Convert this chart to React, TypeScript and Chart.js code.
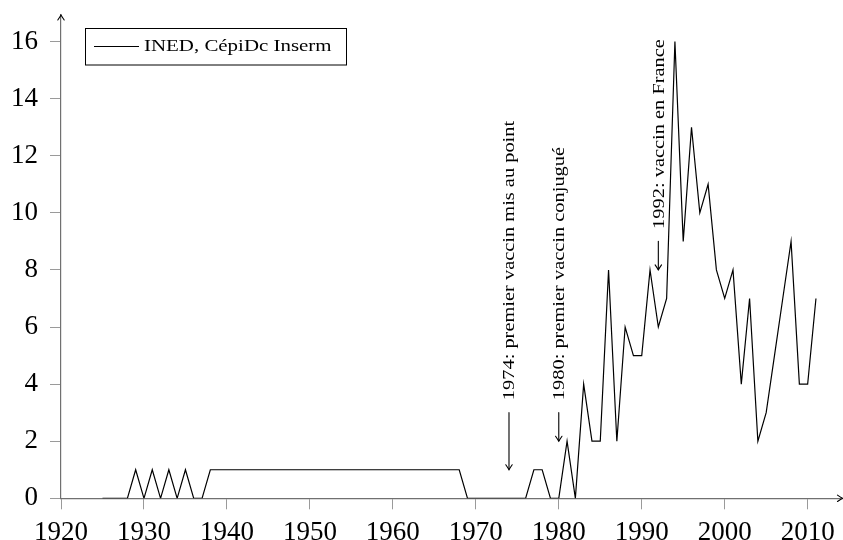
import React, { useEffect, useRef } from "react";
import { Chart, registerables } from "chart.js";

Chart.register(...registerables);

// ---- Data ----
const years = [
  1925, 1926, 1927, 1928, 1929, 1930, 1931, 1932, 1933, 1934, 1935, 1936, 1937,
  1938, 1939, 1940, 1941, 1942, 1943, 1944, 1945, 1946, 1947, 1948, 1949, 1950,
  1951, 1952, 1953, 1954, 1955, 1956, 1957, 1958, 1959, 1960, 1961, 1962, 1963,
  1964, 1965, 1966, 1967, 1968, 1969, 1970, 1971, 1972, 1973, 1974, 1975, 1976,
  1977, 1978, 1979, 1980, 1981, 1982, 1983, 1984, 1985, 1986, 1987, 1988, 1989,
  1990, 1991, 1992, 1993, 1994, 1995, 1996, 1997, 1998, 1999, 2000, 2001, 2002,
  2003, 2004, 2005, 2006, 2007, 2008, 2009, 2010, 2011,
];
const deaths = [
  0, 0, 0, 0, 1, 0, 1, 0, 1, 0, 1, 0, 0,
  1, 1, 1, 1, 1, 1, 1, 1, 1, 1, 1, 1, 1,
  1, 1, 1, 1, 1, 1, 1, 1, 1, 1, 1, 1, 1,
  1, 1, 1, 1, 1, 0, 0, 0, 0, 0, 0, 0, 0,
  1, 1, 0, 0, 2, 0, 4, 2, 2, 8, 2, 6, 5,
  5, 8, 6, 7, 16, 9, 13, 10, 11, 8, 7, 8, 4,
  7, 2, 3, 5, 7, 9, 4, 4, 7,
];
const xTicks = [1920, 1930, 1940, 1950, 1960, 1970, 1980, 1990, 2000, 2010];
const yTicks = [0, 2, 4, 6, 8, 10, 12, 14, 16];
const seriesLabel = "INED, CépiDc Inserm";
const annotationYears = [1974, 1980, 1992];
const annotationTexts = [
  "1974: premier vaccin mis au point",
  "1980: premier vaccin conjugué",
  "1992: vaccin en France",
];
const annotationFrom = [3, 3, 9];
const annotationTo = [1, 2, 8];

const X_MIN = 1920;
const X_MAX = 2014.26;
const Y_MIN = 0;
const Y_MAX = 16.93;

const SERIF = '"Liberation Serif", "Times New Roman", serif';
const STRETCH = 1.2;

function arrowHead(ctx: CanvasRenderingContext2D, x: number, y: number, dir: "up" | "down" | "right") {
  const len = 5;
  const half = 3.2;
  ctx.beginPath();
  if (dir === "right") {
    ctx.moveTo(x - len, y - half);
    ctx.quadraticCurveTo(x - 1.5, y - 0.8, x, y);
    ctx.quadraticCurveTo(x - 1.5, y + 0.8, x - len, y + half);
  } else if (dir === "up") {
    ctx.moveTo(x - half, y + len);
    ctx.quadraticCurveTo(x - 0.8, y + 1.5, x, y);
    ctx.quadraticCurveTo(x + 0.8, y + 1.5, x + half, y + len);
  } else {
    ctx.moveTo(x - half, y - len);
    ctx.quadraticCurveTo(x - 0.8, y - 1.5, x, y);
    ctx.quadraticCurveTo(x + 0.8, y - 1.5, x + half, y - len);
  }
  ctx.stroke();
}

const overlayPlugin = {
  id: "overlay",
  afterDraw(chart: any) {
    const { ctx, chartArea } = chart;
    const xs = chart.scales.x;
    const ys = chart.scales.y;
    ctx.save();
    ctx.strokeStyle = "#000";
    ctx.fillStyle = "#000";
    ctx.lineWidth = 1.1;
    ctx.lineCap = "round";

    // axis arrowheads
    arrowHead(ctx, chartArea.right - 0.5, ys.getPixelForValue(0), "right");
    arrowHead(ctx, xs.getPixelForValue(X_MIN), chartArea.top, "up");

    // annotations
    annotationYears.forEach((yr, i) => {
      const px = xs.getPixelForValue(yr);
      const y0 = ys.getPixelForValue(annotationFrom[i]);
      const y1 = ys.getPixelForValue(annotationTo[i]);
      ctx.beginPath();
      ctx.moveTo(px, y0);
      ctx.lineTo(px, y1 - 0.5);
      ctx.stroke();
      arrowHead(ctx, px, y1, "down");

      ctx.save();
      ctx.translate(px + 5.5, y0 - 12.5);
      ctx.rotate(-Math.PI / 2);
      ctx.scale(STRETCH, 1);
      ctx.font = `17px ${SERIF}`;
      ctx.textAlign = "left";
      ctx.textBaseline = "alphabetic";
      ctx.fillText(annotationTexts[i], 0, 0);
      ctx.restore();
    });

    // legend
    ctx.lineWidth = 1;
    ctx.lineCap = "butt";
    ctx.fillStyle = "#fff";
    ctx.fillRect(85.5, 28.5, 261, 36.5);
    ctx.strokeStyle = "#000";
    ctx.strokeRect(85.5, 28.5, 261, 36.5);
    ctx.beginPath();
    ctx.moveTo(94, 46.5);
    ctx.lineTo(139, 46.5);
    ctx.stroke();
    ctx.save();
    ctx.translate(144, 50.5);
    ctx.scale(1.23, 1);
    ctx.fillStyle = "#000";
    ctx.font = `17px ${SERIF}`;
    ctx.textAlign = "left";
    ctx.textBaseline = "alphabetic";
    ctx.fillText(seriesLabel, 0, 0);
    ctx.restore();

    ctx.restore();
  },
};

export default function App() {
  const canvasRef = useRef<HTMLCanvasElement | null>(null);

  useEffect(() => {
    const canvas = canvasRef.current;
    if (!canvas) return;
    const points = years.map((yr, i) => ({ x: yr, y: deaths[i] }));
    const tickFont = { family: SERIF, size: 27, lineHeight: 1.2 };
    const chart = new Chart(canvas, {
      type: "line",
      data: {
        datasets: [
          {
            label: seriesLabel,
            data: points,
            borderColor: "#000",
            borderWidth: 1.2,
            pointRadius: 0,
            tension: 0,
            fill: false,
          },
        ],
      },
      options: {
        animation: false,
        responsive: false,
        devicePixelRatio: 1,
        layout: { padding: { top: 15, right: 0, left: 0, bottom: 0 } },
        plugins: {
          legend: { display: false },
          tooltip: { enabled: false },
          title: { display: false },
        },
        scales: {
          x: {
            type: "linear",
            min: X_MIN,
            max: X_MAX,
            bounds: "data",
            afterBuildTicks: (s: any) => {
              s.ticks = xTicks.map((v) => ({ value: v }));
            },
            afterFit: (s: any) => {
              s.height = 41.7;
              s.paddingLeft = 0;
              s.paddingRight = 0;
            },
            grid: {
              drawOnChartArea: false,
              drawTicks: true,
              tickLength: 11,
              color: "#9a9a9a",
              lineWidth: 1,
            },
            border: { display: true, color: "#707070", width: 1.2 },
            ticks: {
              font: tickFont,
              color: "#000",
              padding: 7,
              maxRotation: 0,
              autoSkip: false,
              callback: (v: any) => String(v),
            },
          },
          y: {
            type: "linear",
            min: Y_MIN,
            max: Y_MAX,
            bounds: "data",
            afterBuildTicks: (s: any) => {
              s.ticks = yTicks.map((v) => ({ value: v }));
            },
            afterFit: (s: any) => {
              s.width = 61;
              s.paddingTop = 0;
              s.paddingBottom = 0;
            },
            grid: {
              drawOnChartArea: false,
              drawTicks: true,
              tickLength: 11,
              color: "#9a9a9a",
              lineWidth: 1,
            },
            border: { display: true, color: "#707070", width: 1.2 },
            ticks: {
              font: tickFont,
              color: "#000",
              padding: 12,
              autoSkip: false,
              callback: (v: any) => String(v),
            },
          },
        },
      },
      plugins: [overlayPlugin],
    } as any);
    return () => chart.destroy();
  }, []);

  return (
    <div
      style={{
        position: "absolute",
        left: 0,
        top: 0,
        width: 843,
        height: 540,
        background: "#fff",
      }}
    >
      <canvas ref={canvasRef} width={843} height={540} style={{ display: "block" }} />
    </div>
  );
}
